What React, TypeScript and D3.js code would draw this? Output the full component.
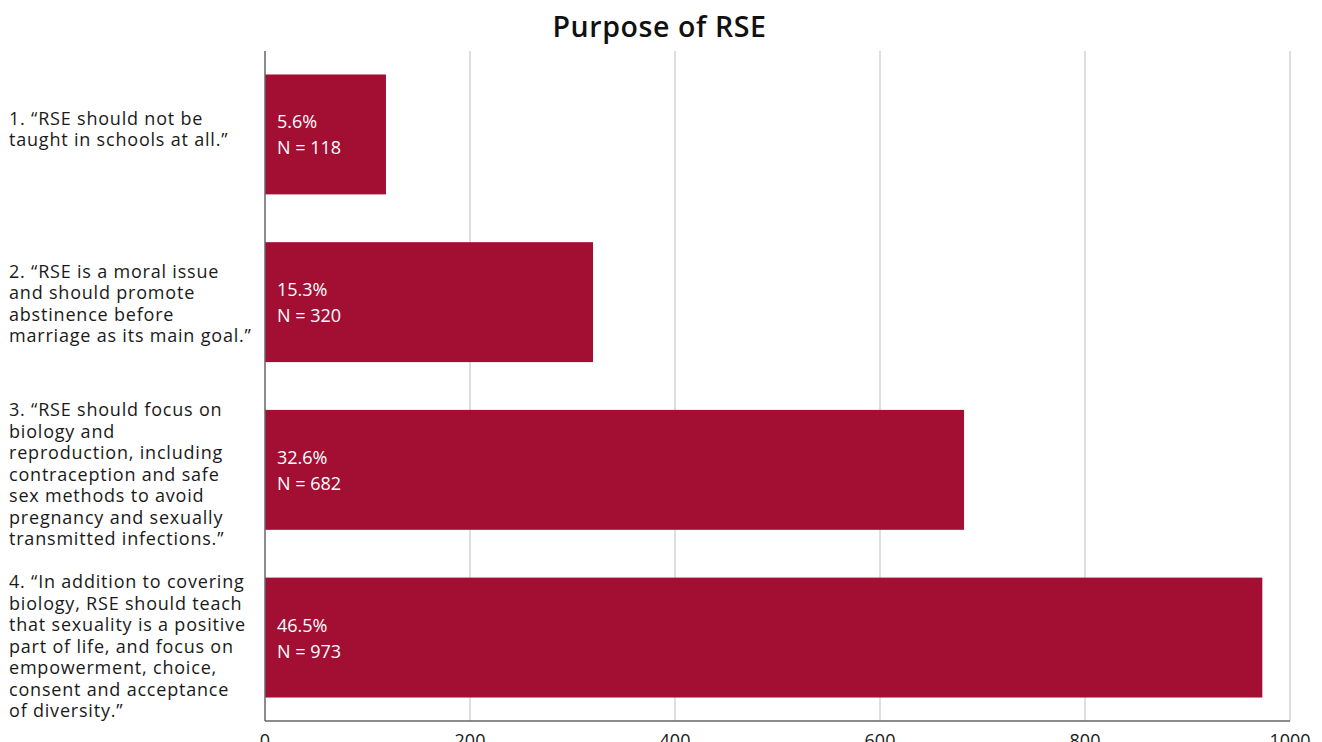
import React from "react";
import * as d3 from "d3";

const categories: string[][] = [
  ["1. “RSE should not be", "taught in schools at all.”"],
  ["2. “RSE is a moral issue", "and should promote", "abstinence before", "marriage as its main goal.”"],
  ["3. “RSE should focus on", "biology and", "reproduction, including", "contraception and safe", "sex methods to avoid", "pregnancy and sexually", "transmitted infections.”"],
  ["4. “In addition to covering", "biology, RSE should teach", "that sexuality is a positive", "part of life, and focus on", "empowerment, choice,", "consent and acceptance", "of diversity.”"],
];
const counts: number[] = [118, 320, 682, 973];
const percents: string[] = ["5.6%", "15.3%", "32.6%", "46.5%"];
const xTicks: number[] = [0, 200, 400, 600, 800, 1000];
const title = "Purpose of RSE";

const W = 1322;
const H = 742;
const left = 265;
const right = 1290;
const top = 51;
const bottom = 721;
const FONT = "'Open Sans', 'Noto Sans', sans-serif";
const BAR = "#a30e33";

export default function App() {
  const x = d3.scaleLinear().domain([0, 1000]).range([left, right]);
  const y = d3
    .scaleBand<number>()
    .domain(d3.range(categories.length))
    .range([top, bottom])
    .paddingInner(0.285)
    .paddingOuter(0.14);
  const lh = 21.5;
  return (
    <svg
      width={W}
      height={H}
      style={{ position: "absolute", left: 0, top: 0, display: "block" }}
      fontFamily={FONT}
    >
      <rect width={W} height={H} fill="#fff" />
      <text x={659.5} y={37} textAnchor="middle" fontSize={28.5} fontWeight={600} letterSpacing={0.6} fill="#111">
        {title}
      </text>
      {xTicks.slice(1).map((t) => (
        <line key={t} x1={x(t)} x2={x(t)} y1={top} y2={bottom} stroke="#c8c8c8" strokeWidth={1.2} />
      ))}
      {counts.map((c, i) => {
        const y0 = y(i)!;
        const bw = y.bandwidth();
        const cy = y0 + bw / 2;
        return (
          <g key={i}>
            <rect x={x(0)} y={y0} width={x(c) - x(0)} height={bw} fill={BAR} />
            <text x={277} y={cy - 12 + 6} fontSize={18} fill="#fff">
              {percents[i]}
            </text>
            <text x={277} y={cy + 14 + 6} fontSize={18} fill="#fff">
              {`N = ${c}`}
            </text>
          </g>
        );
      })}
      {categories.map((lines, i) => {
        const cy = y(i)! + y.bandwidth() / 2 + [-5, 2, 5, 9][i];
        const start = cy - ((lines.length - 1) * lh) / 2;
        return (
          <text key={i} fontSize={18} fill="#1a1a1a" letterSpacing={0.8}>
            {lines.map((l, j) => (
              <tspan key={j} x={9} y={start + j * lh + 6}>
                {l}
              </tspan>
            ))}
          </text>
        );
      })}
      <line x1={left} x2={left} y1={top} y2={bottom} stroke="#666" strokeWidth={1.5} />
      <line x1={left} x2={right} y1={bottom} y2={bottom} stroke="#666" strokeWidth={1.5} />
      {xTicks.map((t) => (
        <text key={t} x={x(t)} y={747} textAnchor="middle" fontSize={18} fill="#1a1a1a">
          {t}
        </text>
      ))}
    </svg>
  );
}
